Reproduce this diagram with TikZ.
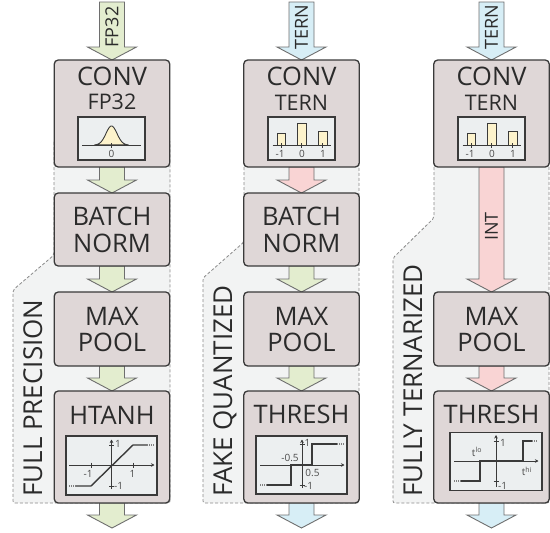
\documentclass[tikz,border=0pt]{standalone}
\usepackage{fontspec}
\setmainfont{Open Sans}
\usetikzlibrary{calc,arrows.meta}
\pgfdeclarelayer{back}
\pgfdeclarelayer{mid}
\pgfsetlayers{back,mid,main}
\definecolor{boxfill}{HTML}{DFD7D7}
\definecolor{boxline}{HTML}{3A3A3A}
\definecolor{plotfill}{HTML}{ECEFF0}
\definecolor{bgfill}{HTML}{F2F3F3}
\definecolor{bgline}{HTML}{8A8A8A}
\definecolor{agreen}{HTML}{E3EDCF}
\definecolor{apink}{HTML}{F9D4D4}
\definecolor{ablue}{HTML}{D7EEF6}
\definecolor{ayellow}{HTML}{FDF3CC}
\definecolor{txt}{HTML}{2B2B2B}
\definecolor{arrline}{HTML}{6E6E6E}
\tikzset{
 layerbox/.style={draw=boxline, fill=boxfill, line width=1.3pt, rounded corners=4pt, minimum width=115.5pt, inner sep=0pt, outer sep=0pt},
 plotbox/.style={draw=boxline, fill=plotfill, line width=1.3pt},
 bigtext/.style={text=txt, font=\fontsize{25.5}{30}\selectfont, anchor=base, inner sep=0pt},
 subtext/.style={text=txt, font=\fontsize{21.5}{25}\selectfont, anchor=base, inner sep=0pt},
 sidetext/.style={text=txt, font=\fontsize{26}{30}\selectfont, rotate=90, anchor=base west, inner sep=0pt},
 arrtext/.style={text=txt, font=\fontsize{18}{20}\selectfont, rotate=90, inner sep=0pt},
 ticktext/.style={text=txt!85, font=\fontsize{10}{12}\selectfont, inner sep=0.5pt},
 region/.style={draw=bgline, fill=bgfill, dash pattern=on 3pt off 2pt, line width=0.8pt, rounded corners=2pt},
 fat/.style={draw=arrline, line width=0.9pt, line join=miter},
 axisline/.style={draw=boxline, line width=0.8pt, -{Stealth[length=3.5pt,width=3.5pt]}},
 flat/.style={draw=boxline, line width=0.9pt},
 tk/.style={draw=boxline, line width=0.7pt},
 curve/.style={draw=boxline, line width=1.4pt},
 dotend/.style={draw=gray, line width=1.2pt, dash pattern=on 1pt off 1pt},
 bar/.style={draw=boxline, fill=ayellow, line width=0.9pt},
}
\newcommand{\fatarrow}[3]{%
 \draw[fat, fill=#1] ($(#2)+(-12.5,0)$) -- ($(#3)+(-12.5,-13)$) -- ($(#3)+(-24.5,-13)$) -- (#3) -- ($(#3)+(24.5,-13)$) -- ($(#3)+(12.5,-13)$) -- ($(#2)+(12.5,0)$) -- cycle;}
\newcommand{\ternhist}[2]{%
 \begin{scope}[shift={(#1,0)}]
 \draw[plotbox] (-33.5,117) rectangle (33.5,160);
 \draw[bar] (-24.5,145) rectangle (-16.5,133);
 \draw[bar] (-4.5,145) rectangle (4.5,123);
 \draw[bar] (16.5,145) rectangle (25.5,131);
 \draw[flat] (-29,145) -- (29.5,145);
 \foreach \t in {-20.5,0,21} \draw[tk] (\t,143) -- (\t,147.5);
 \node[ticktext] (#2m) at (-21.5,153.5) {-1};
 \node[ticktext] (#2z) at (0.5,153.5) {0};
 \node[ticktext] (#2p) at (21.5,153.5) {1};
 \end{scope}}
\begin{document}
\begin{tikzpicture}[x=1pt,y=-1pt]
\useasboundingbox (0,0) rectangle (550,533);
% ---------- boxes ----------
\foreach \c/\k in {112/1,301.5/2,491.5/3}{
 \node[layerbox, minimum height=107pt] (conv\k) at (\c,113.5) {};
 \node[layerbox, minimum height=74pt] (mp\k) at (\c,329) {};
 \node[layerbox, minimum height=112pt] (act\k) at (\c,447) {};
 \coordinate (in\k) at (\c,2);
 \coordinate (out\k) at (\c,528);
}
\node[layerbox, minimum height=73pt] (bn1) at (112,229.5) {};
\node[layerbox, minimum height=73pt] (bn2) at (301.5,229.5) {};
% ---------- regions ----------
\begin{pgfonlayer}{back}
\draw[region] (54,140) -- (54,255) -- (13,290) -- (13,503) -- (170,503) -- (170,140) -- cycle;
\draw[region] (244,140) -- (244,242) -- (203,278) -- (203,503) -- (359,503) -- (359,140) -- cycle;
\draw[region] (434,140) -- (434,218) -- (393,258) -- (393,503) -- (549,503) -- (549,140) -- cycle;
\end{pgfonlayer}
% ---------- arrows ----------
\begin{pgfonlayer}{mid}
\fatarrow{agreen}{in1}{conv1.north}
\fatarrow{agreen}{conv1.south}{bn1.north}
\fatarrow{agreen}{bn1.south}{mp1.north}
\fatarrow{agreen}{mp1.south}{act1.north}
\fatarrow{agreen}{act1.south}{out1}
\fatarrow{ablue}{in2}{conv2.north}
\fatarrow{apink}{conv2.south}{bn2.north}
\fatarrow{agreen}{bn2.south}{mp2.north}
\fatarrow{agreen}{mp2.south}{act2.north}
\fatarrow{ablue}{act2.south}{out2}
\fatarrow{ablue}{in3}{conv3.north}
\fatarrow{apink}{conv3.south}{mp3.north}
\fatarrow{apink}{mp3.south}{act3.north}
\fatarrow{ablue}{act3.south}{out3}
\end{pgfonlayer}
\node[arrtext] (in1t) at (112,27) {FP32};
\node[arrtext] (in2t) at (301.5,27.5) {TERN};
\node[arrtext] (in3t) at (491.5,27.5) {TERN};
\node[arrtext] (int3) at (491.5,226.5) {INT};
% ---------- side labels ----------
\node[sidetext] (lab1) at (42,497) {FULL PRECISION};
\node[sidetext] (lab2) at (232,497) {FAKE QUANTIZED};
\node[sidetext] (lab3) at (422,497) {FULLY TERNARIZED};
% ---------- box texts ----------
\node[bigtext] (conv1t) at (112,85) {CONV};
\node[subtext] (conv1s) at (112,109) {FP32};
\node[bigtext] (conv2t) at (301.5,85) {CONV};
\node[subtext] (conv2s) at (301.5,110) {TERN};
\node[bigtext] (conv3t) at (491.5,85) {CONV};
\node[subtext] (conv3s) at (491.5,110) {TERN};
\node[bigtext] (bn1a) at (112,225) {BATCH};
\node[bigtext] (bn1b) at (112,252) {NORM};
\node[bigtext] (bn2a) at (301.5,225) {BATCH};
\node[bigtext] (bn2b) at (301.5,252) {NORM};
\foreach \c/\k in {112/1,301.5/2,491.5/3}{
 \node[bigtext] (mp\k a) at (\c,325) {MAX};
 \node[bigtext] (mp\k b) at (\c,351) {POOL};
}
\node[bigtext] (act1t) at (112,424) {HTANH};
\node[bigtext] (act2t) at (301.5,423.5) {THRESH};
\node[bigtext] (act3t) at (491.5,423.5) {THRESH};
% ---------- conv plots ----------
\draw[plotbox] (78,117) rectangle (145,160);
\draw[bar] plot[domain=-17:17, samples=50] ({111.5+\x},{145-19*exp(-0.5*(\x/5.5)*(\x/5.5))}) -- cycle;
\draw[flat] (82,145) -- (140.5,145);
\draw[tk] (111.5,143) -- (111.5,147.5);
\node[ticktext] (g0) at (111.5,153.5) {0};
\ternhist{301.5}{hb}
\ternhist{491.5}{hc}
% ---------- HTANH plot ----------
\draw[plotbox] (66,436) rectangle (157,495);
\draw[axisline] (69,465) -- (154.5,465);
\draw[axisline] (111.5,489) -- (111.5,439.5);
\draw[dotend] (69,486) -- (76,486);
\draw[curve] (76,486) -- (91,486) -- (133,445) -- (147,445);
\draw[dotend] (147,445) -- (154,445);
\draw[tk] (91,462.5) -- (91,467.5);
\draw[tk] (133,462.5) -- (133,467.5);
\draw[tk] (109,445) -- (114,445);
\draw[tk] (109,486) -- (114,486);
\node[ticktext] (h1) at (88,473.5) {-1};
\node[ticktext] (h2) at (132.5,473.5) {1};
\node[ticktext, anchor=west] (h3) at (114.5,444) {1};
\node[ticktext, anchor=west] (h4) at (113.5,486) {-1};
% ---------- THRESH (fake) plot ----------
\draw[plotbox] (256,436) rectangle (347,494);
\draw[axisline] (260,465) -- (344.5,465);
\draw[axisline] (302,488) -- (302,439.5);
\draw[dotend] (260,485) -- (267,485);
\draw[curve] (267,485) -- (291,485) -- (291,465) -- (312,465) -- (312,444) -- (337,444);
\draw[dotend] (337,444) -- (344,444);
\draw[tk] (299.5,444) -- (304.5,444);
\draw[tk] (299.5,485) -- (304.5,485);
\node[ticktext] (f1) at (290,458) {-0.5};
\node[ticktext] (f2) at (312.5,472.5) {0.5};
\node[ticktext, anchor=west] (f3) at (304,443) {1};
\node[ticktext, anchor=west] (f4) at (303.5,486) {-1};
% ---------- THRESH (ternary) plot ----------
\draw[plotbox] (450,432.5) rectangle (542,490.5);
\draw[axisline] (454,461) -- (538.5,461);
\draw[axisline] (496,487) -- (496,435);
\draw[dotend] (454,481) -- (461,481);
\draw[curve] (461,481) -- (480,481) -- (480,461) -- (523,461) -- (523,441) -- (532,441);
\draw[dotend] (532,441) -- (538,441);
\draw[tk] (493.5,441) -- (498.5,441);
\draw[tk] (493.5,481) -- (498.5,481);
\node[ticktext] (t1) at (477,452) {t\textsuperscript{lo}};
\node[ticktext] (t2) at (527,471.5) {t\textsuperscript{hi}};
\node[ticktext, anchor=west] (t3) at (499.5,443) {1};
\node[ticktext, anchor=west] (t4) at (497.5,485.5) {-1};
\end{tikzpicture}
\end{document}
